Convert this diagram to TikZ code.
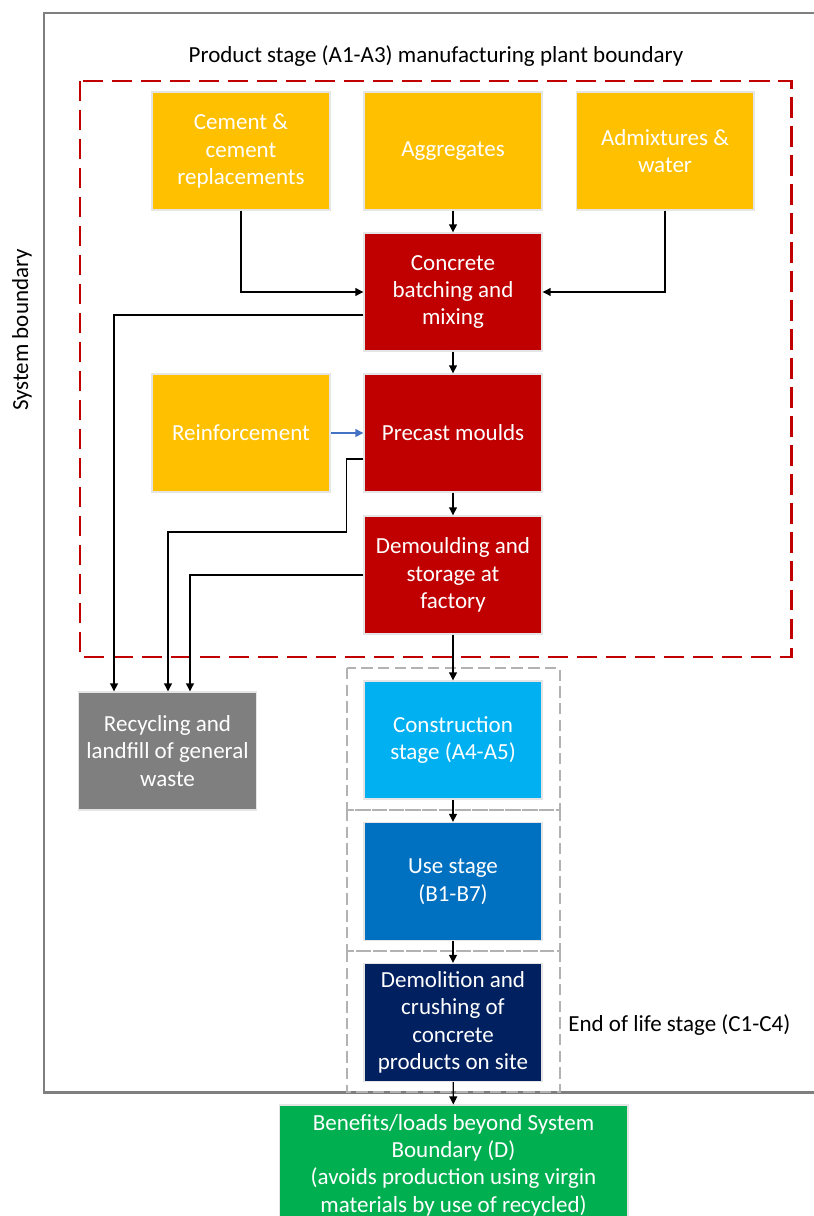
\documentclass[tikz,border=0pt]{standalone}
\usepackage{fontspec}
\setmainfont{Carlito}
\usetikzlibrary{arrows.meta}

\definecolor{inputcol}{HTML}{FFC000}
\definecolor{plantcol}{HTML}{C00000}
\definecolor{wastecol}{HTML}{7F7F7F}
\definecolor{constrcol}{HTML}{00B0F0}
\definecolor{usecol}{HTML}{0070C0}
\definecolor{eolcol}{HTML}{002060}
\definecolor{benefcol}{HTML}{00B050}
\definecolor{reinfcol}{HTML}{4472C4}

\begin{document}
\begin{tikzpicture}[x=0.02cm,y=-0.02cm]
	\tikzset{
		box/.style={rectangle, draw=gray!20, line width=0.6pt, minimum width=3.56cm, minimum height=2.36cm, inner sep=2pt, align=center, text=white, font=\fontsize{13.1}{15.6}\selectfont},
		lbl/.style={inner sep=0pt, font=\fontsize{13.1}{15.6}\selectfont},
		flow/.style={line width=0.8pt, -{Triangle[length=4.6pt,width=4.4pt]}},
		stageline/.style={draw=gray!60, line width=0.6pt, dash pattern=on 6.5pt off 3pt}
	}
	\useasboundingbox (0,0) rectangle (814,1216);
	% boundaries
	\draw[wastecol, line width=1.7pt] (44,13) rectangle (840,1092);
	\draw[plantcol, line width=1.7pt, dash pattern=on 11.5pt off 5pt] (80,81) rectangle (791,657);
	\draw[stageline] (347,668) rectangle (560,810);
	\draw[stageline] (347,810) rectangle (560,951);
	\draw[stageline] (347,951) rectangle (560,1092);
	\node[lbl, rotate=90] (sysb) at (22,330) {System boundary};
	\node[lbl] (plant) at (436,56) {Product stage (A1-A3) manufacturing plant boundary};
	\node[lbl, anchor=west] (eol) at (568,1025) {End of life stage (C1-C4)};
	% product stage
	\node[box, fill=inputcol] (cem) at (241,151) {Cement \&\\cement\\replacements};
	\node[box, fill=inputcol] (agg) at (453,151) {Aggregates};
	\node[box, fill=inputcol] (adm) at (665,151) {Admixtures \&\\water};
	\node[box, fill=plantcol] (mix) at (453,292) {Concrete\\batching and\\mixing};
	\node[box, fill=inputcol] (reinf) at (241,433) {Reinforcement};
	\node[box, fill=plantcol] (mould) at (453,433) {Precast moulds};
	\node[box, fill=plantcol] (store) at (453,575) {Demoulding and\\storage at\\factory};
	\node[box, fill=wastecol] (recyc) at (167.5,751) {Recycling and\\landfill of general\\waste};
	% later stages
	\node[box, fill=constrcol] (constr) at (453,740) {Construction\\stage (A4-A5)};
	\node[box, fill=usecol] (use) at (453,881.5) {Use stage\\(B1-B7)};
	\node[box, fill=eolcol] (demol) at (453,1022.5) {Demolition and\\crushing of\\concrete\\products on site};
	\node[box, fill=benefcol, minimum width=6.98cm, minimum height=2.4cm] (benef) at (453.5,1165) {Benefits/loads beyond System\\Boundary (D)\\(avoids production using virgin\\materials by use of recycled)};
	\path[flow]
		(agg) edge (mix)
		(mix) edge (mould)
		(mould) edge (store)
		(store) edge (constr)
		(constr) edge (use)
		(use) edge (demol)
		(demol) edge (benef);
	\draw[flow] (cem.south) |- (mix.west);
	\draw[flow] (adm.south) |- (mix.east);
	\draw[flow, reinfcol] (reinf) -- (mould);
	% waste streams
	\draw[flow] ([yshift=-0.46cm]mix.west) -| ([xshift=-1.07cm]recyc.north);
	\draw[flow] ([yshift=-0.52cm]mould.west) -- ++(-17,0) -- ++(0,73) -| ([xshift=0.01cm]recyc.north);
	\draw[flow] (store.west) -| ([xshift=0.45cm]recyc.north);
\end{tikzpicture}
\end{document}
